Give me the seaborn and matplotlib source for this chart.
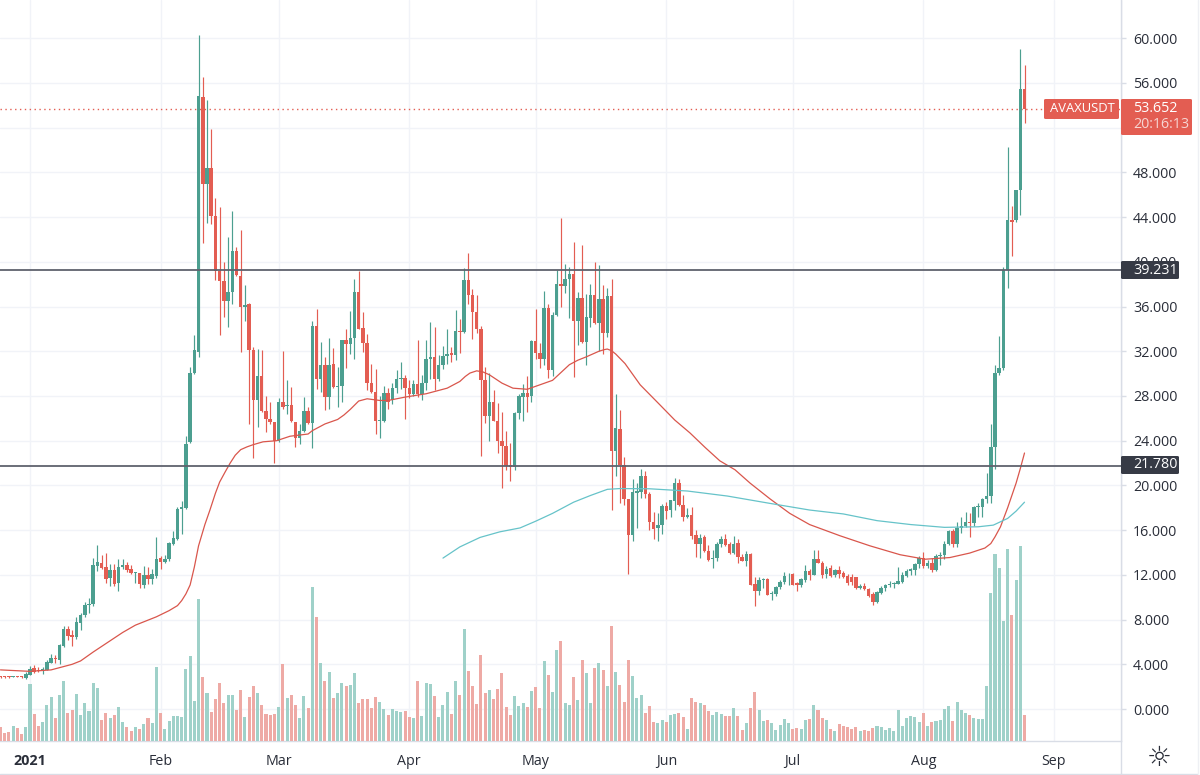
import numpy as np
import pandas as pd
import matplotlib.pyplot as plt
from matplotlib.patches import FancyBboxPatch
import seaborn as sns

# daily candles, 25 Dec 2020 to 25 Aug 2021
opens = [2.9, 2.9, 2.9, 2.85, 2.92, 2.87, 2.8,
         3.07, 3.7, 3.5, 3.4, 3.5, 4.15, 4.6, 4.4, 5.6, 7.2,
         6.6, 6.4, 7.7, 8.45, 9.3, 9.4, 12.8, 13.1, 12.7, 11.75,
         12.4, 11.3, 12.7, 12.9, 12.5, 12.2, 12.15, 11.1, 12.0, 11.6,
         11.9, 13.55, 13.15, 13.4, 14.8, 15.2, 17.9, 18.0, 23.9, 30.1,
         31.9, 54.75, 47.0, 48.35, 44.1, 39.2, 38.3, 36.5, 37.3, 41.0,
         38.7, 35.95, 36.2, 32.1, 27.6, 29.75, 26.7, 25.9, 25.7, 23.95,
         27.45, 27.1, 27.15, 25.7, 24.25, 24.85, 26.7, 25.55, 34.3, 29.55,
         30.8, 27.95, 30.85, 28.8, 28.9, 33, 32.65, 33.15, 37.3, 34.1,
         32.75, 29.15, 28.4, 25.8, 25.75, 28.25, 27.65, 28.7, 29.5, 29.6,
         28.7, 28.2, 29.1, 28.2, 29.15, 31.3, 31.5, 29.5, 30.8, 31.6,
         31.85, 31.65, 33.85, 33.7, 38.4, 37.05, 35.5, 34, 29.4, 26.25,
         27.45, 25.8, 24, 23.55, 21.8, 21.65, 26.5, 27.95, 28.25, 28,
         32.9, 31.85, 31.3, 35.9, 30.3, 35.2, 38, 37.85, 38.45, 38.95,
         34.7, 36.75, 32.8, 35, 37, 34.5, 36.65, 33.65, 36.95, 23.1,
         25.05, 21.8, 18.8, 15.6, 19.35, 19.45, 20.85, 19.2, 16.7, 16.15,
         16.45, 18.15, 17.8, 18.65, 20.25, 18.25, 17.2, 17.35, 15.55, 14.75,
         15.4, 14.15, 13.45, 13.55, 14.8, 15.2, 14.75, 14, 14.85, 13.6,
         13.25, 13.9, 11.15, 10.6, 11.5, 11.65, 10.25, 10.3, 10.9, 11.35,
         11.95, 12.05, 11.25, 11.1, 11.5, 12.35, 12, 13.4, 13.1, 12.05,
         12.6, 11.95, 12.4, 12.15, 11.9, 11.85, 11.85, 10.8, 11, 10.7,
         10.3, 9.6, 10.4, 10.8, 11.05, 11.15, 11.2, 11.4, 11.9, 12.35,
         12.45, 13, 13.5, 12.8, 13.05, 12.45, 13.65, 13.75, 14.8, 15.9,
         14.75, 16.15, 16.4, 16.7, 16.6, 18.05, 18.05, 18.75, 19.05, 23.45,
         30.1, 30.5, 39.25, 43.75, 43.7, 46.4, 55.45]
closes = [2.85, 2.85, 2.86, 2.92, 2.87, 2.83, 3.15,
          3.6, 3.3, 3.4, 3.6, 4.2, 4.6, 4.48, 5.7, 7.2, 6.5,
          6.45, 7.75, 8.45, 9.3, 9.4, 12.85, 13.15, 12.6, 11.65, 12.4,
          11.2, 12.7, 12.85, 12.45, 12.2, 12.25, 11.15, 12.0, 11.6, 12.05,
          13.4, 13.15, 13.45, 14.85, 15.3, 17.9, 18.1, 23.7, 30.1, 32.1,
          54.8, 47.0, 48.35, 44.1, 39.2, 38.25, 36.5, 37.3, 41.0, 38.8,
          35.95, 36.15, 32.1, 27.6, 29.75, 26.7, 25.9, 25.65, 23.95, 27.45,
          27.05, 27.15, 25.75, 24.25, 24.9, 26.7, 25.6, 34.3, 29.55, 30.8,
          27.95, 30.8, 28.8, 28.9, 33, 32.65, 33.15, 37.3, 34, 32.7,
          29.15, 28.4, 25.8, 25.85, 28.25, 27.5, 28.7, 29.5, 29.65, 28.7,
          28.2, 29.1, 28.2, 29.15, 31.3, 31.5, 29.5, 30.8, 31.6, 31.8,
          31.7, 33.85, 33.75, 38.4, 37.05, 35.5, 34, 29.4, 26.25, 27.45,
          25.8, 24, 23.55, 21.7, 21.65, 26.5, 28, 28.25, 27.9, 32.9,
          31.85, 31.3, 35.9, 30.3, 35.25, 38, 37.85, 38.45, 38.95, 34.7,
          36.8, 32.8, 35.1, 37, 34.5, 36.65, 33.65, 36.95, 23.1, 25.1,
          21.8, 18.8, 15.6, 19.45, 19.5, 20.85, 19.2, 16.7, 16.1, 16.5,
          18.15, 17.75, 18.7, 20.25, 18.25, 17.2, 17.35, 15.5, 14.75, 15.3,
          14.15, 13.3, 13.5, 14.8, 15.2, 14.65, 14, 14.8, 13.6, 13.25,
          13.9, 11.1, 10.55, 11.5, 11.65, 10.2, 10.35, 10.95, 11.4, 11.9,
          12, 11.1, 11.1, 11.6, 12.35, 12, 13.4, 13.1, 12, 12.55,
          11.9, 12.4, 12.05, 11.85, 11.3, 11.35, 10.8, 11, 10.75, 10.1,
          9.6, 10.45, 10.8, 11.05, 11.2, 11.25, 11.45, 12, 12.35, 12.5,
          13, 13.55, 12.8, 13.05, 12.45, 13.7, 13.75, 14.8, 15.9, 14.8,
          16.15, 16.4, 16.7, 16.6, 18.05, 18.1, 18.8, 19.05, 23.45, 30.1,
          30.5, 39.27, 43.75, 43.6, 46.4, 55.45, 53.65]
highs = [2.95, 2.95, 2.95, 2.97, 2.97, 2.92, 3.28,
         3.82, 3.9, 3.75, 3.75, 4.35, 4.95, 4.8, 5.85, 7.45, 7.45,
         7.05, 8.25, 8.6, 9.6, 9.9, 13.55, 14.65, 13.75, 14, 13,
         13, 13.4, 13.45, 13.15, 12.9, 12.25, 12.15, 12.8, 12.7, 12.55,
         15.4, 13.7, 13.75, 14.95, 15.9, 18.05, 18.65, 24.45, 30.6, 33.5,
         60.3, 56.5, 54.5, 51.9, 45.75, 44.9, 40, 42.2, 44.55, 41.3,
         42.85, 37.95, 36.3, 32.4, 32.2, 32.1, 28, 27.45, 25.7, 27.8,
         32, 29.4, 28.8, 25.7, 25.5, 27.9, 27.05, 34.7, 35.75, 32.8,
         31.5, 33.2, 32.25, 30.6, 33, 34, 35.6, 38.45, 39.2, 35.5,
         33.55, 30.85, 30.4, 28, 28.85, 28.7, 29.15, 30.35, 31, 29.9,
         29.45, 29.45, 33, 29.9, 33, 34.6, 34.2, 31.7, 32.5, 34,
         32.4, 35.65, 34.9, 39.45, 40.8, 37.6, 37, 34.3, 30.6, 30.05,
         28.5, 27.35, 26.55, 24.85, 23.8, 26.55, 28.2, 29.1, 29.8, 33.05,
         35.75, 32.7, 37.4, 36.2, 35.5, 39.25, 43.9, 39.85, 39.5, 41.8,
         37.3, 41.5, 37.15, 38, 40, 39.7, 37.9, 37.7, 38.5, 28.2,
         26.75, 22.5, 18.8, 20.55, 20.25, 21.5, 21.25, 19.45, 17.6, 17.5,
         18.3, 18.55, 18.7, 20.65, 20.55, 19.15, 17.95, 18.1, 16, 15.65,
         15.55, 14.65, 14.2, 14.95, 15.5, 15.65, 14.9, 15.5, 15.2, 13.9,
         14.15, 13.95, 11.85, 11.85, 11.75, 11.75, 10.6, 11, 11.5, 12.3,
         12.15, 12.15, 11.4, 11.7, 12.9, 12.5, 14.2, 14.2, 13.2, 12.8,
         12.85, 12.55, 12.8, 12.35, 12.05, 12.05, 11.85, 11.2, 11.3, 10.8,
         10.5, 10.55, 11, 11.15, 11.45, 11.4, 12.7, 12.3, 12.5, 12.65,
         13.05, 13.65, 14.05, 13.3, 13.5, 13.85, 14.05, 15, 16, 16.1,
         16.75, 17.15, 17.6, 17.55, 18.15, 18.4, 18.85, 21.15, 25.5, 30.8,
         33.4, 39.5, 50.3, 45, 46.45, 59, 57.65]
lows = [2.8, 2.8, 2.8, 2.82, 2.82, 2.78, 2.7,
        3, 3.2, 3.3, 3.15, 3.45, 4.1, 4.15, 4, 5.55, 6.15,
        5.65, 6.3, 7.1, 8.25, 8.55, 9.2, 12.35, 12.5, 11.3, 11,
        11, 10.6, 12.5, 12.25, 12.05, 11.3, 10.8, 10.8, 11.2, 11.2,
        11.75, 12.55, 13.05, 13.2, 14.7, 15.1, 15.7, 17.85, 23.8, 30,
        31.5, 41.7, 43.5, 43.4, 38.4, 33.5, 35.05, 34.15, 36.2, 38.7,
        31.9, 34.7, 25.45, 22.45, 25.2, 26.55, 24.75, 25.5, 22.05, 23.85,
        26.85, 26.4, 25.65, 23.45, 23.75, 24.75, 25.5, 23.35, 28.6, 28.4,
        26.75, 26.85, 28.7, 27, 27.5, 30.5, 31.75, 31.3, 33.95, 31.9,
        28.55, 28.3, 24.6, 24.25, 25.7, 26.85, 27.3, 28.25, 28.6, 25.9,
        27.8, 28, 27.9, 27.6, 28.5, 29.5, 28.55, 29.3, 30.4, 30.9,
        31, 31.2, 31.85, 33.65, 36.2, 33.1, 33.65, 22.6, 25.6, 23.95,
        25.75, 22.9, 19.8, 21.4, 20.4, 21.4, 25.9, 25.8, 26.6, 27.5,
        31.3, 30.5, 30.75, 29.6, 29.75, 35.15, 36, 37.2, 35, 29.7,
        32.6, 32.7, 30.75, 34.2, 34.4, 32, 31.8, 33.25, 17.8, 20.8,
        18.4, 18.25, 12.05, 15.05, 16.15, 18.9, 18.85, 16, 15.2, 15.05,
        15.65, 17, 17.15, 17.8, 18.2, 16.85, 17.05, 15.25, 13.6, 13.55,
        14.05, 13.2, 12.65, 13.25, 14.45, 14.6, 13.85, 13.85, 13.1, 13.2,
        12.8, 11.1, 9.25, 10.2, 10.8, 10.2, 9.75, 10.1, 10.7, 11.2,
        11.1, 11.05, 10.6, 10.95, 11.4, 11.5, 12, 13.05, 11.75, 11.7,
        11.85, 11.85, 11.7, 11.7, 11.1, 11.1, 10.75, 10.75, 10.65, 10.05,
        9.3, 9.45, 10.25, 10.6, 10.95, 10.8, 11.2, 11.25, 11.8, 12,
        12, 12.6, 12.6, 12.6, 12.3, 12.35, 12.9, 13.4, 14.65, 14.5,
        14.45, 15.75, 16.3, 15.4, 16.35, 17.15, 17.15, 18.45, 18.45, 21.5,
        29.9, 30.3, 37.7, 40.55, 43.6, 44.2, 52.45]
volumes = [42, 24, 27, 45, 40, 22, 42,
           171, 81, 46, 58, 107, 132, 69, 137, 180, 85,
           94, 140, 79, 115, 91, 174, 159, 62, 84, 70,
           79, 103, 57, 43, 31, 42, 37, 52, 69, 53,
           222, 84, 36, 59, 76, 76, 72, 217, 255, 120,
           427, 191, 143, 86, 127, 175, 115, 138, 138, 93,
           152, 71, 133, 164, 145, 109, 82, 77, 82, 103,
           232, 129, 139, 107, 69, 135, 99, 462, 372, 234,
           179, 207, 129, 143, 174, 165, 169, 203, 114, 126,
           127, 99, 132, 117, 95, 77, 97, 89, 87, 91,
           72, 69, 179, 75, 174, 172, 135, 73, 109, 148,
           82, 181, 139, 336, 210, 164, 111, 259, 145, 154,
           125, 156, 203, 102, 79, 135, 106, 114, 103, 150,
           161, 100, 239, 198, 147, 273, 300, 113, 107, 193,
           123, 244, 205, 115, 220, 234, 212, 164, 346, 207,
           169, 118, 242, 195, 130, 138, 85, 105, 57, 54,
           63, 56, 77, 80, 84, 72, 36, 129, 118, 113,
           109, 91, 79, 87, 81, 74, 74, 99, 75, 33,
           55, 99, 147, 94, 60, 63, 53, 34, 48, 65,
           53, 35, 40, 36, 63, 65, 107, 92, 69, 64,
           36, 29, 51, 45, 43, 37, 41, 29, 32, 31,
           38, 46, 42, 34, 39, 29, 94, 46, 70, 75,
           71, 58, 85, 45, 56, 59, 64, 96, 106, 61,
           116, 94, 84, 79, 70, 67, 65, 165, 443, 561,
           518, 360, 577, 379, 482, 585, 78]

red_days = [-7, 0, 5, 8, 10, 12, 15, 18, 22, 25, 30, 33, 35, 36, 37, 38, 39, 40, 41.5, 42.7, 44, 45, 46.3,
            47.5, 48.7, 50, 51.5, 53, 55.3, 58.5, 61.7, 66, 67, 70, 73, 74.5, 76, 78, 80, 83, 85, 89, 94,
            99, 102, 103.3, 104.4, 106, 107.5, 109, 112, 114.6, 118, 121, 124, 126, 128, 130, 132, 135,
            136.3, 137, 138, 139, 141.2, 144.8, 149.5, 153, 156.6, 160.2, 163.7, 167.3, 170.9, 175.6,
            180.3, 185, 192.2, 199.3, 206.5, 212.4, 218.3, 223, 226.6, 228, 229, 230.3, 232, 233, 234,
            235, 236]
red_ma = [3.5, 3.37, 3.5, 3.8, 4.0, 4.3, 5.1, 5.85, 6.85, 7.5, 8.25, 8.8, 9.25, 9.7, 10.3, 11.1, 12.7, 14.6,
          16.5, 17.8, 19.3, 20.3, 21.2, 22, 22.7, 23.2, 23.45, 23.65, 23.9, 24, 24.4, 24.6, 24.9, 25.5,
          25.9, 26.3, 26.8, 27.55, 27.75, 27.6, 27.6, 27.9, 28.2, 28.7, 29.3, 29.75, 30.05, 30.25, 30.15,
          29.9, 29.15, 28.7, 28.6, 29, 29.4, 30.1, 30.8, 31.2, 31.5, 32, 32.15, 32.2, 32.05, 31.75, 30.9,
          29, 27.2, 25.85, 24.7, 23.4, 22.2, 21.4, 20.2, 18.8, 17.5, 16.5, 15.5, 14.6, 13.8, 13.4, 13.55,
          13.95, 14.4, 14.8, 15.4, 16.3, 18, 19.1, 20.2, 21.5, 22.9]
teal_days = [98, 102, 106.8, 111.5, 116.3, 120, 124, 129, 133, 137, 140, 147, 156, 165.5, 175.5, 185, 193,
             201, 209, 217, 225, 228.6, 232, 234, 236]
teal_ma = [13.5, 14.5, 15.35, 15.85, 16.2, 16.8, 17.5, 18.5, 19.1, 19.65, 19.72, 19.7, 19.5, 19.05, 18.4,
           17.8, 17.45, 16.85, 16.5, 16.25, 16.3, 16.45, 17.05, 17.7, 18.5]

price_ticks = list(range(0, 64, 4))
month_days = [0, 31, 59, 90, 120, 151, 181, 212, 243]
month_labels = ["2021", "Feb", "Mar", "Apr", "May", "Jun", "Jul", "Aug", "Sep"]
last_price = 53.652
upper_level = 39.231
lower_level = 21.780

UP = "#4c9f90"
DOWN = "#e35d52"
UP_VOL = "#9fd1c9"
DOWN_VOL = "#eeaaa5"
GRID = "#f1f3f8"
EDGE = "#d9dde6"
TEXT = "#2a2e39"
LEVEL = "#5f626d"
LABEL_BG = "#363a45"
FONT = ["Open Sans", "DejaVu Sans"]

sns.set_theme(style="white")
plt.rcParams["font.family"] = FONT

df = pd.DataFrame({"open": opens, "high": highs, "low": lows, "close": closes, "volume": volumes})
df["day"] = np.arange(-7, len(df) - 7)
df["rising"] = df["close"] >= df["open"]

W, H = 1200, 775
fig = plt.figure(figsize=(W / 100, H / 100), dpi=100, facecolor="white")
ax = fig.add_axes([0, (H - 741) / H, 1121 / W, 741 / H])
ax_vol = ax.twinx()
ax.set_zorder(1)
ax_vol.set_zorder(2)
ax_vol.patch.set_alpha(0)

# volume, on its own scale
sns.barplot(data=df, x="day", y="volume", hue="rising", palette={True: UP_VOL, False: DOWN_VOL},
            native_scale=True, dodge=False, width=0.72, saturation=1, legend=False, linewidth=0, ax=ax_vol)
ax_vol.set_ylim(0, 2223)
ax_vol.set_axis_off()

# candles
colors = df["rising"].map({True: UP, False: DOWN})
ax.vlines(df["day"], df["low"], df["high"], colors=colors, linewidth=0.85, zorder=3)
ax.bar(df["day"], (df["close"] - df["open"]).abs().clip(lower=0.08), bottom=df[["open", "close"]].min(axis=1),
       width=0.82, color=colors, linewidth=0, zorder=4)

sns.lineplot(x=red_days, y=red_ma, color="#d9564c", linewidth=0.9, ax=ax, zorder=5)
sns.lineplot(x=teal_days, y=teal_ma, color="#66c3c9", linewidth=0.9, ax=ax, zorder=5)

ax.axhline(upper_level, color=LEVEL, linewidth=1.3, zorder=6)
ax.axhline(lower_level, color=LEVEL, linewidth=1.3, zorder=6)
ax.axhline(last_price, color=DOWN, linewidth=1, linestyle=(0, (1, 2.5)), zorder=2)

ax.set_xlim(-7.12, 258.9)
ax.set_ylim(-2.86, 63.42)
ax.set_xticks(month_days)
ax.set_xticklabels(month_labels)
ax.set_yticks(price_ticks)
# the 52.000 label sits behind the last price box
ax.set_yticklabels(["" if t == 52 else f"{t:.3f}" for t in price_ticks])
ax.set_xlabel("")
ax.set_ylabel("")
ax.yaxis.tick_right()
ax.grid(True, color=GRID, linewidth=1)
ax.set_axisbelow(True)
ax.tick_params(axis="y", length=3.6, width=1, color=EDGE, pad=5, labelsize=10.3, labelcolor=TEXT)
ax.tick_params(axis="x", length=3.6, width=1, color=EDGE, pad=5.5, labelsize=10.3, labelcolor=TEXT)
ax.get_xticklabels()[0].set_fontweight("bold")
for side in ["top", "left"]:
    ax.spines[side].set_visible(False)
for side in ["right", "bottom"]:
    ax.spines[side].set_color(EDGE)
    ax.spines[side].set_linewidth(1)


def box(x0, y0, x1, y1, color):
    # rounded label, given in image pixels
    fig.add_artist(FancyBboxPatch((x0 / W, 1 - y1 / H), (x1 - x0) / W, (y1 - y0) / H,
                                  boxstyle="round,pad=0,rounding_size=0.0015", transform=fig.transFigure,
                                  facecolor=color, edgecolor="none", zorder=5))


def label(x, y, s, color="white", size=10.3, **kw):
    fig.text(x / W, 1 - y / H, s, color=color, ha="left", va="center", fontsize=size, zorder=6, **kw)


box(1044, 99, 1119, 119, DOWN)
label(1050, 109, "AVAXUSDT", size=9.4)
box(1121, 99, 1192, 135, DOWN)
label(1133, 109, f"{last_price:.3f}")
label(1133, 125, "20:16:13", color="#f6d5d2")
box(1121, 261, 1179, 279, LABEL_BG)
label(1133, 270, f"{upper_level:.3f}")
box(1121, 456, 1179, 474, LABEL_BG)
label(1133, 465, f"{lower_level:.3f}")

# bottom strip: separator, outer frame and the settings icon
fig.add_artist(plt.Line2D([1121 / W, 1121 / W], [0, 1], color=EDGE, linewidth=1, zorder=1))
fig.add_artist(plt.Line2D([0, 1198 / W], [1 / H, 1 / H], color=EDGE, linewidth=1, zorder=1))
fig.add_artist(plt.Line2D([1198 / W, 1198 / W], [0, 1], color="#eef0f4", linewidth=1, zorder=1))
fig.text(1159 / W, 1 - 758 / H, "\u263c", fontsize=20, color=TEXT, ha="center", va="center",
         family="DejaVu Sans")

fig.savefig("out.png", dpi=100)
